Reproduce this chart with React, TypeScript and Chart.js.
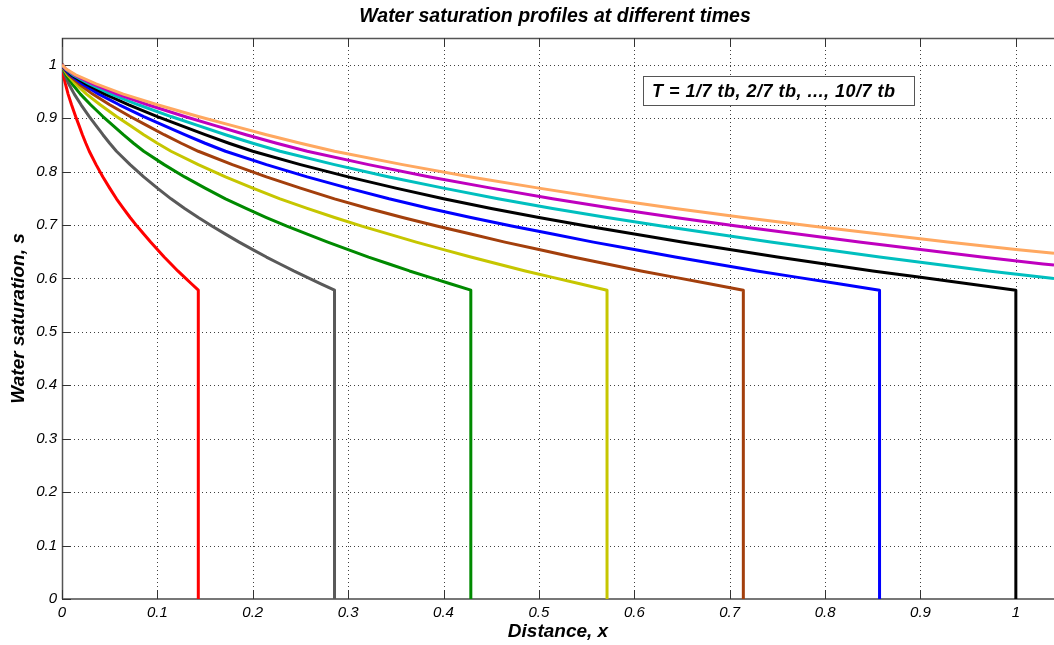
import React, { useEffect, useRef } from 'react';
import { Chart, registerables } from 'chart.js';

Chart.register(...registerables);

// ---- Data ----
const chartTitle = 'Water saturation profiles at different times';
const xAxisTitle = 'Distance, x';
const yAxisTitle = 'Water saturation, s';
const legendNote = 'T = 1/7 tb, 2/7 tb, ..., 10/7 tb';

const xTickValues = [0, 0.1, 0.2, 0.3, 0.4, 0.5, 0.6, 0.7, 0.8, 0.9, 1];
const yTickValues = [0, 0.1, 0.2, 0.3, 0.4, 0.5, 0.6, 0.7, 0.8, 0.9, 1];
const xMax = 1.04;
const yMax = 1.05;

// T = 1/7 tb (red)
const xT1 = [0, 0.0004, 0.0014, 0.0036, 0.0064, 0.0100, 0.0143, 0.0179, 0.0214, 0.0250, 0.0286, 0.0357, 0.0429, 0.0500, 0.0571, 0.0643, 0.0714, 0.0786, 0.0857, 0.0929, 0.1000, 0.1071, 0.1143, 0.1214, 0.1286, 0.1357, 0.1429, 0.1429];
const sT1 = [1.000, 0.992, 0.981, 0.964, 0.945, 0.925, 0.903, 0.886, 0.869, 0.853, 0.838, 0.813, 0.790, 0.769, 0.749, 0.731, 0.714, 0.698, 0.683, 0.668, 0.654, 0.640, 0.627, 0.614, 0.602, 0.590, 0.578, 0];
// T = 2/7 tb (gray)
const xT2 = [0, 0.0009, 0.0029, 0.0071, 0.0129, 0.0200, 0.0286, 0.0357, 0.0429, 0.0500, 0.0571, 0.0714, 0.0857, 0.1000, 0.1143, 0.1286, 0.1429, 0.1571, 0.1714, 0.1857, 0.2000, 0.2143, 0.2286, 0.2429, 0.2571, 0.2714, 0.2857, 0.2857];
const sT2 = [1.000, 0.992, 0.981, 0.964, 0.945, 0.925, 0.903, 0.886, 0.869, 0.853, 0.838, 0.813, 0.790, 0.769, 0.749, 0.731, 0.714, 0.698, 0.683, 0.668, 0.654, 0.640, 0.627, 0.614, 0.602, 0.590, 0.578, 0];
// T = 3/7 tb (green)
const xT3 = [0, 0.0013, 0.0043, 0.0107, 0.0193, 0.0300, 0.0429, 0.0536, 0.0643, 0.0750, 0.0857, 0.1071, 0.1286, 0.1500, 0.1714, 0.1929, 0.2143, 0.2357, 0.2571, 0.2786, 0.3000, 0.3214, 0.3429, 0.3643, 0.3857, 0.4071, 0.4286, 0.4286];
const sT3 = [1.000, 0.992, 0.981, 0.964, 0.945, 0.925, 0.903, 0.886, 0.869, 0.853, 0.838, 0.813, 0.790, 0.769, 0.749, 0.731, 0.714, 0.698, 0.683, 0.668, 0.654, 0.640, 0.627, 0.614, 0.602, 0.590, 0.578, 0];
// T = 4/7 tb (yellow)
const xT4 = [0, 0.0017, 0.0057, 0.0143, 0.0257, 0.0400, 0.0571, 0.0714, 0.0857, 0.1000, 0.1143, 0.1429, 0.1714, 0.2000, 0.2286, 0.2571, 0.2857, 0.3143, 0.3429, 0.3714, 0.4000, 0.4286, 0.4571, 0.4857, 0.5143, 0.5429, 0.5714, 0.5714];
const sT4 = [1.000, 0.992, 0.981, 0.964, 0.945, 0.925, 0.903, 0.886, 0.869, 0.853, 0.838, 0.813, 0.790, 0.769, 0.749, 0.731, 0.714, 0.698, 0.683, 0.668, 0.654, 0.640, 0.627, 0.614, 0.602, 0.590, 0.578, 0];
// T = 5/7 tb (brown)
const xT5 = [0, 0.0021, 0.0071, 0.0179, 0.0321, 0.0500, 0.0714, 0.0893, 0.1071, 0.1250, 0.1429, 0.1786, 0.2143, 0.2500, 0.2857, 0.3214, 0.3571, 0.3929, 0.4286, 0.4643, 0.5000, 0.5357, 0.5714, 0.6071, 0.6429, 0.6786, 0.7143, 0.7143];
const sT5 = [1.000, 0.992, 0.981, 0.964, 0.945, 0.925, 0.903, 0.886, 0.869, 0.853, 0.838, 0.813, 0.790, 0.769, 0.749, 0.731, 0.714, 0.698, 0.683, 0.668, 0.654, 0.640, 0.627, 0.614, 0.602, 0.590, 0.578, 0];
// T = 6/7 tb (blue)
const xT6 = [0, 0.0026, 0.0086, 0.0214, 0.0386, 0.0600, 0.0857, 0.1071, 0.1286, 0.1500, 0.1714, 0.2143, 0.2571, 0.3000, 0.3429, 0.3857, 0.4286, 0.4714, 0.5143, 0.5571, 0.6000, 0.6429, 0.6857, 0.7286, 0.7714, 0.8143, 0.8571, 0.8571];
const sT6 = [1.000, 0.992, 0.981, 0.964, 0.945, 0.925, 0.903, 0.886, 0.869, 0.853, 0.838, 0.813, 0.790, 0.769, 0.749, 0.731, 0.714, 0.698, 0.683, 0.668, 0.654, 0.640, 0.627, 0.614, 0.602, 0.590, 0.578, 0];
// T = 7/7 tb (black)
const xT7 = [0, 0.003, 0.010, 0.025, 0.045, 0.070, 0.100, 0.125, 0.150, 0.175, 0.200, 0.250, 0.300, 0.350, 0.400, 0.450, 0.500, 0.550, 0.600, 0.650, 0.700, 0.750, 0.800, 0.850, 0.900, 0.950, 1.000, 1.000];
const sT7 = [1.000, 0.992, 0.981, 0.964, 0.945, 0.925, 0.903, 0.886, 0.869, 0.853, 0.838, 0.813, 0.790, 0.769, 0.749, 0.731, 0.714, 0.698, 0.683, 0.668, 0.654, 0.640, 0.627, 0.614, 0.602, 0.590, 0.578, 0];
// T = 8/7 tb (cyan)
const xT8 = [0, 0.0034, 0.0114, 0.0286, 0.0514, 0.0800, 0.1143, 0.1429, 0.1714, 0.2000, 0.2286, 0.2857, 0.3429, 0.4000, 0.4571, 0.5143, 0.5714, 0.6286, 0.6857, 0.7429, 0.8000, 0.8571, 0.9143, 0.9714, 1.0286, 1.04];
const sT8 = [1.000, 0.992, 0.981, 0.964, 0.945, 0.925, 0.903, 0.886, 0.869, 0.853, 0.838, 0.813, 0.790, 0.769, 0.749, 0.731, 0.714, 0.698, 0.683, 0.668, 0.654, 0.640, 0.627, 0.614, 0.602, 0.600];
// T = 9/7 tb (magenta)
const xT9 = [0, 0.0039, 0.0129, 0.0321, 0.0579, 0.0900, 0.1286, 0.1607, 0.1929, 0.2250, 0.2571, 0.3214, 0.3857, 0.4500, 0.5143, 0.5786, 0.6429, 0.7071, 0.7714, 0.8357, 0.9000, 0.9643, 1.0286, 1.04];
const sT9 = [1.000, 0.992, 0.981, 0.964, 0.945, 0.925, 0.903, 0.886, 0.869, 0.853, 0.838, 0.813, 0.790, 0.769, 0.749, 0.731, 0.714, 0.698, 0.683, 0.668, 0.654, 0.640, 0.627, 0.625];
// T = 10/7 tb (orange)
const xT10 = [0, 0.0043, 0.0143, 0.0357, 0.0643, 0.1000, 0.1429, 0.1786, 0.2143, 0.2500, 0.2857, 0.3571, 0.4286, 0.5000, 0.5714, 0.6429, 0.7143, 0.7857, 0.8571, 0.9286, 1.0000, 1.04];
const sT10 = [1.000, 0.992, 0.981, 0.964, 0.945, 0.925, 0.903, 0.886, 0.869, 0.853, 0.838, 0.813, 0.790, 0.769, 0.749, 0.731, 0.714, 0.698, 0.683, 0.668, 0.654, 0.647];

const seriesLabels = ['1/7 tb', '2/7 tb', '3/7 tb', '4/7 tb', '5/7 tb', '6/7 tb', '7/7 tb', '8/7 tb', '9/7 tb', '10/7 tb'];
const seriesColors = ['#ff0000', '#595959', '#008a00', '#c6c600', '#a33f0c', '#0000ff', '#000000', '#00bfbf', '#bf00bf', '#ffa860'];
const seriesX = [xT1, xT2, xT3, xT4, xT5, xT6, xT7, xT8, xT9, xT10];
const seriesS = [sT1, sT2, sT3, sT4, sT5, sT6, sT7, sT8, sT9, sT10];

const FONT = '"Liberation Sans", Arial, Helvetica, sans-serif';

const matlabPlugin = {
  id: 'matlabFrame',
  beforeDatasetsDraw(chart: any) {
    const { ctx, chartArea } = chart;
    const xs = chart.scales.x;
    const ys = chart.scales.y;
    const { left, right, top, bottom } = chartArea;
    ctx.save();
    // dotted grid
    ctx.strokeStyle = 'rgba(0,0,0,0.75)';
    ctx.lineWidth = 1;
    ctx.setLineDash([1, 3]);
    xTickValues.forEach((v) => {
      if (v === 0) return;
      const px = Math.round(xs.getPixelForValue(v)) + 0.5;
      ctx.beginPath();
      ctx.moveTo(px, top);
      ctx.lineTo(px, bottom);
      ctx.stroke();
    });
    yTickValues.forEach((v) => {
      if (v === 0) return;
      const py = Math.round(ys.getPixelForValue(v)) + 0.5;
      ctx.beginPath();
      ctx.moveTo(left, py);
      ctx.lineTo(right, py);
      ctx.stroke();
    });
    ctx.setLineDash([]);
    // axes box (left, top, bottom)
    ctx.strokeStyle = '#555555';
    ctx.lineWidth = 1.5;
    ctx.beginPath();
    ctx.moveTo(right, top + 0.5);
    ctx.lineTo(left + 0.5, top + 0.5);
    ctx.lineTo(left + 0.5, bottom);
    ctx.stroke();
    ctx.strokeStyle = '#777777';
    ctx.lineWidth = 2;
    ctx.beginPath();
    ctx.moveTo(left, bottom);
    ctx.lineTo(right, bottom);
    ctx.stroke();
    // inner tick marks
    ctx.strokeStyle = '#333333';
    ctx.lineWidth = 1;
    const tl = 9;
    xTickValues.forEach((v) => {
      const px = Math.round(xs.getPixelForValue(v)) + 0.5;
      ctx.beginPath();
      ctx.moveTo(px, bottom);
      ctx.lineTo(px, bottom - tl);
      ctx.moveTo(px, top);
      ctx.lineTo(px, top + tl);
      ctx.stroke();
    });
    yTickValues.forEach((v) => {
      const py = Math.round(ys.getPixelForValue(v)) + 0.5;
      ctx.beginPath();
      ctx.moveTo(left, py);
      ctx.lineTo(left + tl, py);
      ctx.stroke();
    });
    ctx.restore();
  },
  afterDatasetsDraw(chart: any) {
    const { ctx, chartArea } = chart;
    const { top, bottom } = chartArea;
    ctx.save();
    // legend note box
    ctx.fillStyle = '#ffffff';
    ctx.fillRect(643.5, 76.5, 271, 29);
    ctx.strokeStyle = '#555555';
    ctx.lineWidth = 1;
    ctx.strokeRect(643.5, 76.5, 271, 29);
    ctx.fillStyle = '#000000';
    ctx.font = `italic bold 18px ${FONT}`;
    ctx.textAlign = 'left';
    ctx.textBaseline = 'middle';
    try { (ctx as any).letterSpacing = '0.5px'; } catch (e) { /* ignore */ }
    ctx.fillText(legendNote, 652, 92);
    try { (ctx as any).letterSpacing = '0px'; } catch (e) { /* ignore */ }
    // title
    ctx.font = `italic bold 19.5px ${FONT}`;
    ctx.textAlign = 'center';
    ctx.fillText(chartTitle, 555, 17);
    // x axis title
    ctx.font = `italic bold 19px ${FONT}`;
    ctx.fillText(xAxisTitle, 558, 632);
    // y axis title
    ctx.translate(19, (top + bottom) / 2);
    ctx.rotate(-Math.PI / 2);
    ctx.fillText(yAxisTitle, 0, 0);
    ctx.restore();
  },
};

export default function App() {
  const canvasRef = useRef<HTMLCanvasElement | null>(null);

  useEffect(() => {
    if (!canvasRef.current) return;
    const datasets = seriesX.map((xs, k) => ({
      label: seriesLabels[k],
      data: xs.map((x, i) => ({ x, y: seriesS[k][i] })),
      borderColor: seriesColors[k],
      backgroundColor: seriesColors[k],
      borderWidth: 3,
      pointRadius: 0,
      tension: 0,
      fill: false,
      borderJoinStyle: 'round' as const,
      order: 10 - k,
    }));
    const tickFont = { family: FONT, size: 15, style: 'italic' as const, weight: 'normal' as const };
    const chart = new Chart(canvasRef.current, {
      type: 'line',
      data: { datasets },
      options: {
        animation: false,
        responsive: false,
        devicePixelRatio: 1,
        layout: { padding: { top: 38, left: 0, right: 0, bottom: 0 } },
        plugins: { legend: { display: false }, tooltip: { enabled: false }, title: { display: false } },
        scales: {
          x: {
            type: 'linear',
            min: 0,
            max: xMax,
            grid: { display: false, drawTicks: false },
            border: { display: false },
            afterBuildTicks: (scale: any) => {
              scale.ticks = xTickValues.map((v) => ({ value: v }));
            },
            afterFit: (scale: any) => {
              scale.height = 46;
            },
            ticks: {
              color: '#000',
              font: tickFont,
              padding: 5,
              maxRotation: 0,
              autoSkip: false,
              callback: (v: any) => String(Math.round(Number(v) * 10) / 10),
            },
          },
          y: {
            type: 'linear',
            min: 0,
            max: yMax,
            grid: { display: false, drawTicks: false },
            border: { display: false },
            afterBuildTicks: (scale: any) => {
              scale.ticks = yTickValues.map((v) => ({ value: v }));
            },
            afterFit: (scale: any) => {
              scale.width = 62;
            },
            ticks: {
              color: '#000',
              font: tickFont,
              padding: 5,
              autoSkip: false,
              callback: (v: any) => String(Math.round(Number(v) * 10) / 10),
            },
          },
        },
      },
      plugins: [matlabPlugin],
    } as any);
    return () => chart.destroy();
  }, []);

  return (
    <div style={{ position: 'fixed', left: 0, top: 0, width: 1054, height: 645, background: '#ffffff' }}>
      <canvas ref={canvasRef} width={1054} height={645} style={{ display: 'block' }} />
    </div>
  );
}
